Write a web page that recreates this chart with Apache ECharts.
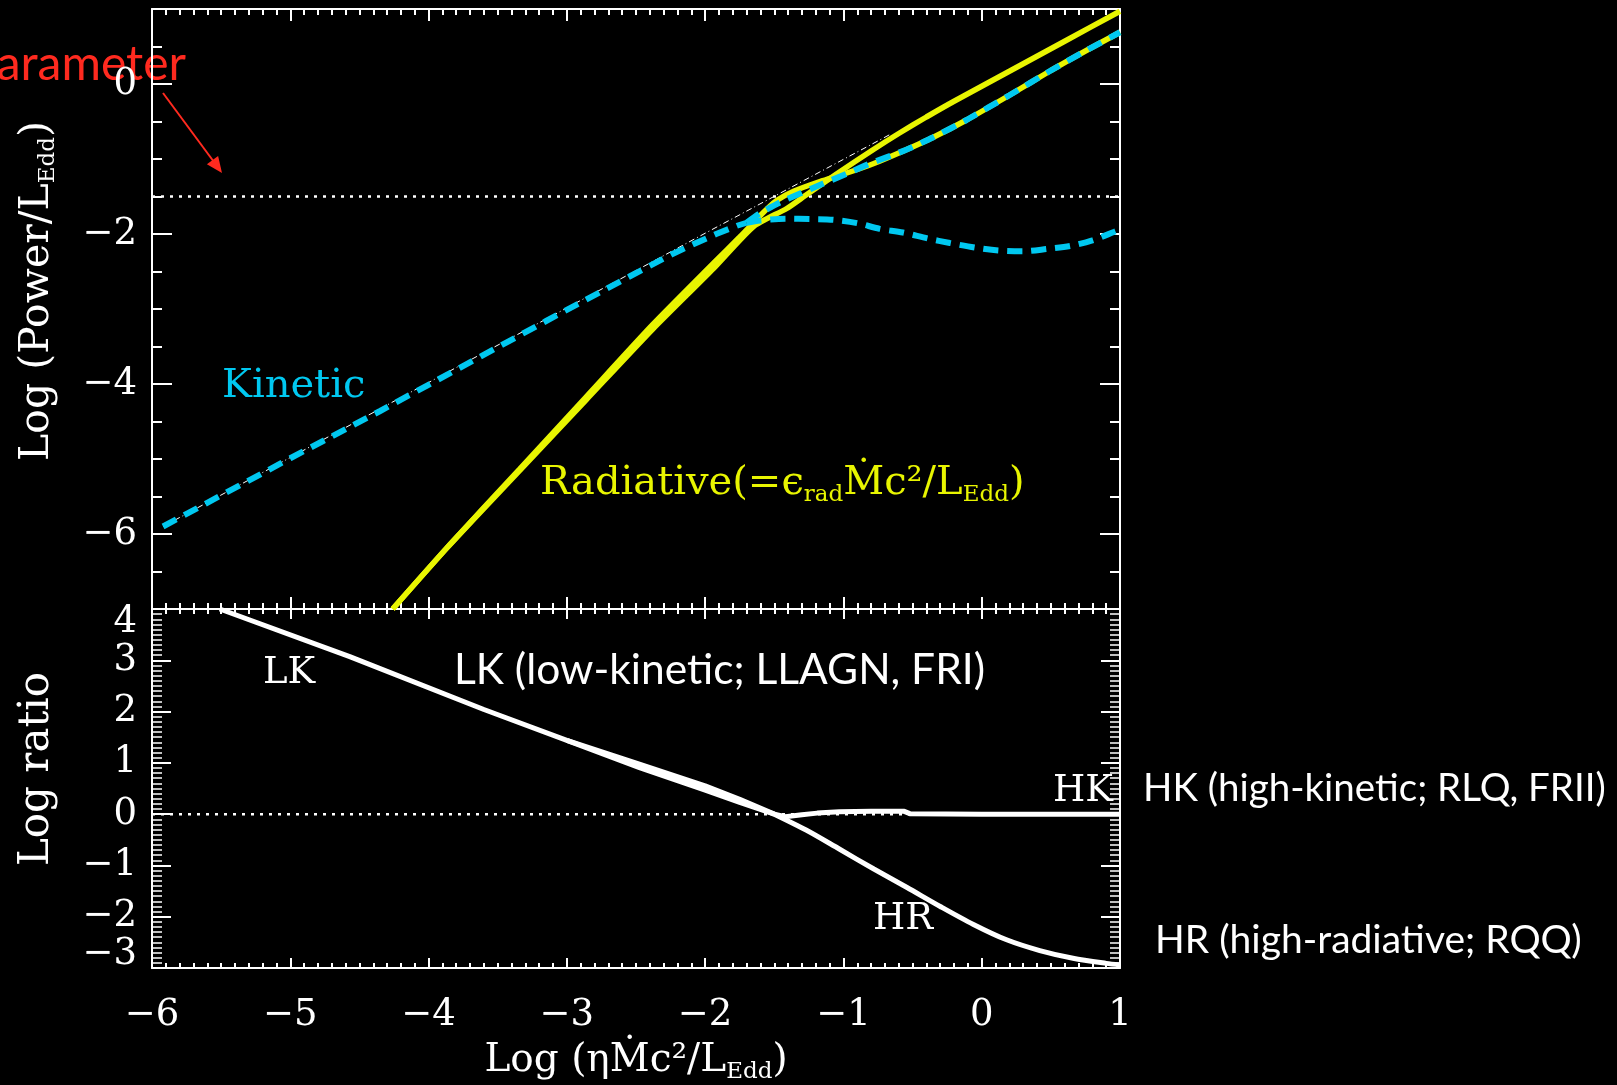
<!DOCTYPE html>
<html>
<head>
<meta charset="utf-8">
<script src="https://cdn.jsdelivr.net/npm/echarts@6/dist/echarts.min.js"></script>
<style>
  html, body { margin: 0; padding: 0; background: #000; }
  #chart { width: 1617px; height: 1085px; }
</style>
</head>
<body>
<div id="chart"></div>
<script>
// ---- axis ticks -------------------------------------------------------
const xTicks = [-6, -5, -4, -3, -2, -1, 0, 1];
const powerTicks = [-6, -4, -2, 0];
const ratioTicks = [-3, -2, -1, 0, 1, 2, 3, 4];

// ---- upper panel: log(Power / L_Edd) vs log(eta Mdot c^2 / L_Edd) ------
// kinetic power, common low-accretion branch
const kineticLow = [[-5.92,-5.90],[-5.00,-4.99],[-4.35,-4.36],[-3.15,-3.16],[-2.54,-2.56],
  [-2.24,-2.27],[-2.09,-2.14],[-1.92,-2.00],[-1.77,-1.89],[-1.70,-1.85]];
// kinetic power, branch that stays jet dominated (HK)
const kineticHigh = [[-1.70,-1.85],[-1.60,-1.72],[-1.46,-1.58],[-1.30,-1.45],[-1.15,-1.33],
  [-0.98,-1.20],[-0.82,-1.07],[-0.55,-0.88],[-0.35,-0.71],[-0.11,-0.48],[0.20,-0.15],
  [0.50,0.18],[0.75,0.44],[1.00,0.69]];
// kinetic power, branch that collapses (HR)
const kineticDrop = [[-1.70,-1.85],[-1.60,-1.82],[-1.41,-1.795],[-1.24,-1.80],[-1.07,-1.81],
  [-0.90,-1.855],[-0.74,-1.93],[-0.57,-1.98],[-0.39,-2.06],[-0.23,-2.12],[-0.05,-2.18],
  [0.12,-2.22],[0.30,-2.23],[0.47,-2.20],[0.64,-2.16],[0.80,-2.085],[0.96,-1.97],[1.00,-1.94]];
// radiative power, disc branch (upper solid line)
const radiativeDisc = [[-4.26,-7.00],[-3.87,-6.19],[-3.34,-5.15],[-2.86,-4.21],[-2.38,-3.27],
  [-1.94,-2.46],[-1.65,-1.90],[-1.41,-1.66],[-1.27,-1.48],[-1.05,-1.20],[-0.78,-0.87],
  [-0.60,-0.66],[-0.40,-0.44],[-0.20,-0.23],[0.20,0.17],[0.60,0.57],[1.00,0.97]];
// radiative power, jet-sharing branch (lower line)
const radiativeShared = [[-4.26,-7.00],[-3.87,-6.19],[-3.34,-5.13],[-2.86,-4.17],[-2.38,-3.21],
  [-1.94,-2.39],[-1.75,-2.04],[-1.62,-1.79],[-1.55,-1.66],[-1.48,-1.55],[-1.36,-1.43],
  [-1.17,-1.30],[-0.98,-1.19],[-0.78,-1.06],[-0.55,-0.88],[-0.35,-0.71],[-0.11,-0.48],
  [0.20,-0.15],[0.50,0.18],[0.75,0.44],[1.00,0.69]];
// P = eta Mdot c^2 reference
const unityLine = [[-5.92,-5.90],[-4.00,-3.98],[-2.00,-1.99],[-0.66,-0.67]];
const powerLevel = [[-6,-1.5],[1,-1.5]];

// ---- lower panel: log(kinetic / radiative) ---------------------------
const ratioLK = [[-5.51,4.00],[-4.57,3.07],[-3.60,2.04],[-3.00,1.44],[-2.47,0.97],
  [-2.00,0.55],[-1.75,0.29],[-1.50,0.00]];
const ratioLKb = [[-3.00,1.44],[-2.47,0.90],[-2.00,0.47],[-1.75,0.23],[-1.50,0.00]];
const ratioHK = [[-1.50,0.00],[-1.42,-0.05],[-1.30,-0.01],[-1.19,0.02],[-1.03,0.045],
  [-0.80,0.055],[-0.56,0.055],[-0.52,0.01],[0.00,0.00],[1.00,0.00]];
const ratioHR = [[-1.50,0.00],[-1.27,-0.31],[-1.03,-0.68],[-0.78,-1.07],[-0.54,-1.43],
  [-0.30,-1.80],[-0.06,-2.15],[0.18,-2.45],[0.42,-2.66],[0.66,-2.81],[0.90,-2.91],[1.00,-2.94]];
const ratioLevel = [[-6,0],[1,0]];

// ---- styling -----------------------------------------------------------
const WHITE = '#ffffff';
const CYAN = '#00c8f0';
const YELLOW = '#e8f500';
const RED = '#ff2a1f';
const SERIF = 'DejaVu Serif';
const minus = v => String(v).replace('-', '\u2212');

const frame = { show: true, onZero: false, lineStyle: { color: WHITE, width: 2 } };
const noLine = { show: false, onZero: false };
const dotted = { color: WHITE, width: 2.5, type: [3, 6] };
const kineticDash = { color: CYAN, width: 6, type: [15, 9] };

function xAxisDef(grid, position, showLabels, major, minor) {
  return {
    type: 'value', gridIndex: grid, position: position, min: -6, max: 1, interval: 1,
    axisLine: frame,
    axisTick: { show: true, inside: true, length: major, lineStyle: { color: WHITE, width: 2 } },
    minorTick: { show: true, splitNumber: 10, length: minor, lineStyle: { color: WHITE, width: 2 } },
    splitLine: { show: false }, minorSplitLine: { show: false },
    axisLabel: showLabels ? {
      show: true, color: WHITE, fontFamily: SERIF, fontSize: 37, margin: 29, formatter: minus
    } : { show: false }
  };
}

const subStyle = { fontFamily: SERIF, color: WHITE, fontSize: 23, lineHeight: 30, verticalAlign: 'bottom' };

const option = {
  backgroundColor: '#000000',
  animation: false,
  grid: [
    { left: 152, top: 9, width: 968, height: 600, outerBoundsMode: 'none', containLabel: false },
    { left: 152, top: 609, width: 968, height: 359, outerBoundsMode: 'none', containLabel: false }
  ],
  xAxis: [
    xAxisDef(0, 'bottom', false, 12, 6),
    xAxisDef(0, 'top', false, 12, 6),
    Object.assign(xAxisDef(1, 'bottom', true, 10, 5), {
      name: 'Log (\u03b7\u1e40c\u00b2/L{sub|Edd})',
      nameLocation: 'middle', nameGap: 70,
      nameTextStyle: { color: WHITE, fontFamily: SERIF, fontSize: 39, lineHeight: 46, rich: { sub: subStyle } }
    }),
    xAxisDef(1, 'top', false, 10, 5)
  ],
  yAxis: [
    {
      type: 'value', gridIndex: 0, position: 'left', min: -7, max: 1,
      axisLine: frame,
      axisTick: { show: true, inside: true, length: 20, customValues: powerTicks, lineStyle: { color: WHITE, width: 2 } },
      axisLabel: { show: true, customValues: powerTicks, color: WHITE, fontFamily: SERIF, fontSize: 37, margin: 15, formatter: minus },
      splitLine: { show: false },
      name: 'Log (Power/L{sub|Edd})', nameLocation: 'middle', nameRotate: 90, nameGap: 92,
      nameTextStyle: { color: WHITE, fontFamily: SERIF, fontSize: 41, lineHeight: 46,
        padding: [0, 0, 0, 36], rich: { sub: subStyle } }
    },
    {
      type: 'value', gridIndex: 0, position: 'left', min: -7, max: 1, interval: 0.5,
      axisLine: noLine,
      axisTick: { show: true, inside: true, length: 10, lineStyle: { color: WHITE, width: 2 } },
      axisLabel: { show: false }, splitLine: { show: false }
    },
    {
      type: 'value', gridIndex: 0, position: 'right', min: -7, max: 1,
      axisLine: frame,
      axisTick: { show: true, inside: true, length: 20, customValues: powerTicks, lineStyle: { color: WHITE, width: 2 } },
      axisLabel: { show: false }, splitLine: { show: false }
    },
    {
      type: 'value', gridIndex: 0, position: 'right', min: -7, max: 1, interval: 0.5,
      axisLine: noLine,
      axisTick: { show: true, inside: true, length: 10, lineStyle: { color: WHITE, width: 2 } },
      axisLabel: { show: false }, splitLine: { show: false }
    },
    {
      type: 'value', gridIndex: 1, position: 'left', min: -3, max: 4, interval: 1,
      axisLine: frame,
      axisTick: { show: true, inside: true, length: 19, lineStyle: { color: WHITE, width: 2 } },
      minorTick: { show: true, splitNumber: 10, length: 10, lineStyle: { color: WHITE, width: 1.5 } },
      axisLabel: {
        show: true, customValues: ratioTicks, color: WHITE, fontFamily: SERIF, fontSize: 37, lineHeight: 27,
        margin: 15, formatter: minus,
        showMinLabel: true, showMaxLabel: true, hideOverlap: false,
        verticalAlignMinLabel: 'bottom', verticalAlignMaxLabel: 'top'
      },
      splitLine: { show: false }, minorSplitLine: { show: false },
      name: 'Log ratio', nameLocation: 'middle', nameRotate: 90, nameGap: 92,
      nameTextStyle: { color: WHITE, fontFamily: SERIF, fontSize: 42, lineHeight: 46, padding: [0, 0, 0, 39] }
    },
    {
      type: 'value', gridIndex: 1, position: 'right', min: -3, max: 4, interval: 1,
      axisLine: frame,
      axisTick: { show: true, inside: true, length: 19, lineStyle: { color: WHITE, width: 2 } },
      minorTick: { show: true, splitNumber: 10, length: 10, lineStyle: { color: WHITE, width: 1.5 } },
      axisLabel: { show: false },
      splitLine: { show: false }, minorSplitLine: { show: false }
    }
  ],
  series: [
    // upper panel
    { name: 'Eddington fraction level', type: 'line', xAxisIndex: 0, yAxisIndex: 0, data: powerLevel,
      showSymbol: false, silent: true, lineStyle: dotted },
    { name: 'P = \u03b7\u1e40c\u00b2', type: 'line', xAxisIndex: 0, yAxisIndex: 0, data: unityLine,
      showSymbol: false, silent: true, lineStyle: { color: WHITE, width: 1, type: [6, 3, 1, 3] } },
    { name: 'Radiative (disc)', type: 'line', xAxisIndex: 0, yAxisIndex: 0, data: radiativeDisc,
      showSymbol: false, smooth: 0.2, lineStyle: { color: YELLOW, width: 5.5 } },
    { name: 'Radiative (jet)', type: 'line', xAxisIndex: 0, yAxisIndex: 0, data: radiativeShared,
      showSymbol: false, smooth: 0.2, lineStyle: { color: YELLOW, width: 5.5 } },
    { name: 'Kinetic', type: 'line', xAxisIndex: 0, yAxisIndex: 0, data: kineticLow,
      showSymbol: false, lineStyle: kineticDash },
    { name: 'Kinetic (HK)', type: 'line', xAxisIndex: 0, yAxisIndex: 0, data: kineticHigh,
      showSymbol: false, smooth: 0.2, lineStyle: kineticDash },
    { name: 'Kinetic (HR)', type: 'line', xAxisIndex: 0, yAxisIndex: 0, data: kineticDrop,
      showSymbol: false, smooth: 0.3, lineStyle: kineticDash },
    // lower panel
    { name: 'Ratio level', type: 'line', xAxisIndex: 2, yAxisIndex: 4, data: ratioLevel,
      showSymbol: false, silent: true, lineStyle: dotted },
    { name: 'LK', type: 'line', xAxisIndex: 2, yAxisIndex: 4, data: ratioLK,
      showSymbol: false, lineStyle: { color: WHITE, width: 5 } },
    { name: 'LK (lower strand)', type: 'line', xAxisIndex: 2, yAxisIndex: 4, data: ratioLKb,
      showSymbol: false, lineStyle: { color: WHITE, width: 5 } },
    { name: 'HK', type: 'line', xAxisIndex: 2, yAxisIndex: 4, data: ratioHK,
      showSymbol: false, lineStyle: { color: WHITE, width: 5 } },
    { name: 'HR', type: 'line', xAxisIndex: 2, yAxisIndex: 4, data: ratioHR,
      showSymbol: false, smooth: 0.3, lineStyle: { color: WHITE, width: 5 } }
  ],
  graphic: [
    // curve and state labels
    { type: 'text', x: 222, y: 387, style: { text: 'Kinetic', fill: CYAN, font: '40px "DejaVu Serif"', verticalAlign: 'middle' } },
    { type: 'text', x: 540, y: 484, style: {
        text: 'Radiative(=\u03f5{r|rad}\u1e40c\u00b2/L{s|Edd})', fill: YELLOW,
        font: '40px "DejaVu Serif"', lineHeight: 46, verticalAlign: 'middle',
        rich: {
          r: { fontFamily: SERIF, fontSize: 23, lineHeight: 20, fill: YELLOW, verticalAlign: 'bottom' },
          s: { fontFamily: SERIF, fontSize: 23, lineHeight: 30, fill: YELLOW, verticalAlign: 'bottom' }
        } } },
    { type: 'text', x: 263, y: 673, style: { text: 'LK', fill: WHITE, font: '37px "DejaVu Serif"', verticalAlign: 'middle' } },
    { type: 'text', x: 1053, y: 791, style: { text: 'HK', fill: WHITE, font: '37px "DejaVu Serif"', verticalAlign: 'middle' } },
    { type: 'text', x: 873, y: 919, style: { text: 'HR', fill: WHITE, font: '37px "DejaVu Serif"', verticalAlign: 'middle' } },
    // regime descriptions
    { type: 'text', x: 454, y: 670, style: { text: 'LK (low-kinetic; LLAGN, FRI)', fill: WHITE, font: '42.5px Lato', verticalAlign: 'middle' } },
    { type: 'text', x: 1143, y: 789, style: { text: 'HK (high-kinetic; RLQ, FRII)', fill: WHITE, font: '38.5px Lato', verticalAlign: 'middle' } },
    { type: 'text', x: 1155, y: 940, style: { text: 'HR (high-radiative; RQQ)', fill: WHITE, font: '39px Lato', verticalAlign: 'middle' } },
    // pointer to the Eddington-fraction level
    { type: 'text', x: 186, y: 65, style: { text: 'parameter', fill: RED, font: '48px Lato', align: 'right', verticalAlign: 'middle' } },
    { type: 'line', shape: { x1: 163, y1: 93, x2: 214, y2: 162 }, style: { stroke: RED, lineWidth: 2 } },
    { type: 'polygon', shape: { points: [[222, 173], [206.9, 164.3], [218.1, 155.9]] }, style: { fill: RED } }
  ]
};

const chart = echarts.init(document.getElementById('chart'), null, { renderer: 'canvas' });
chart.setOption(option);
</script>
</body>
</html>
